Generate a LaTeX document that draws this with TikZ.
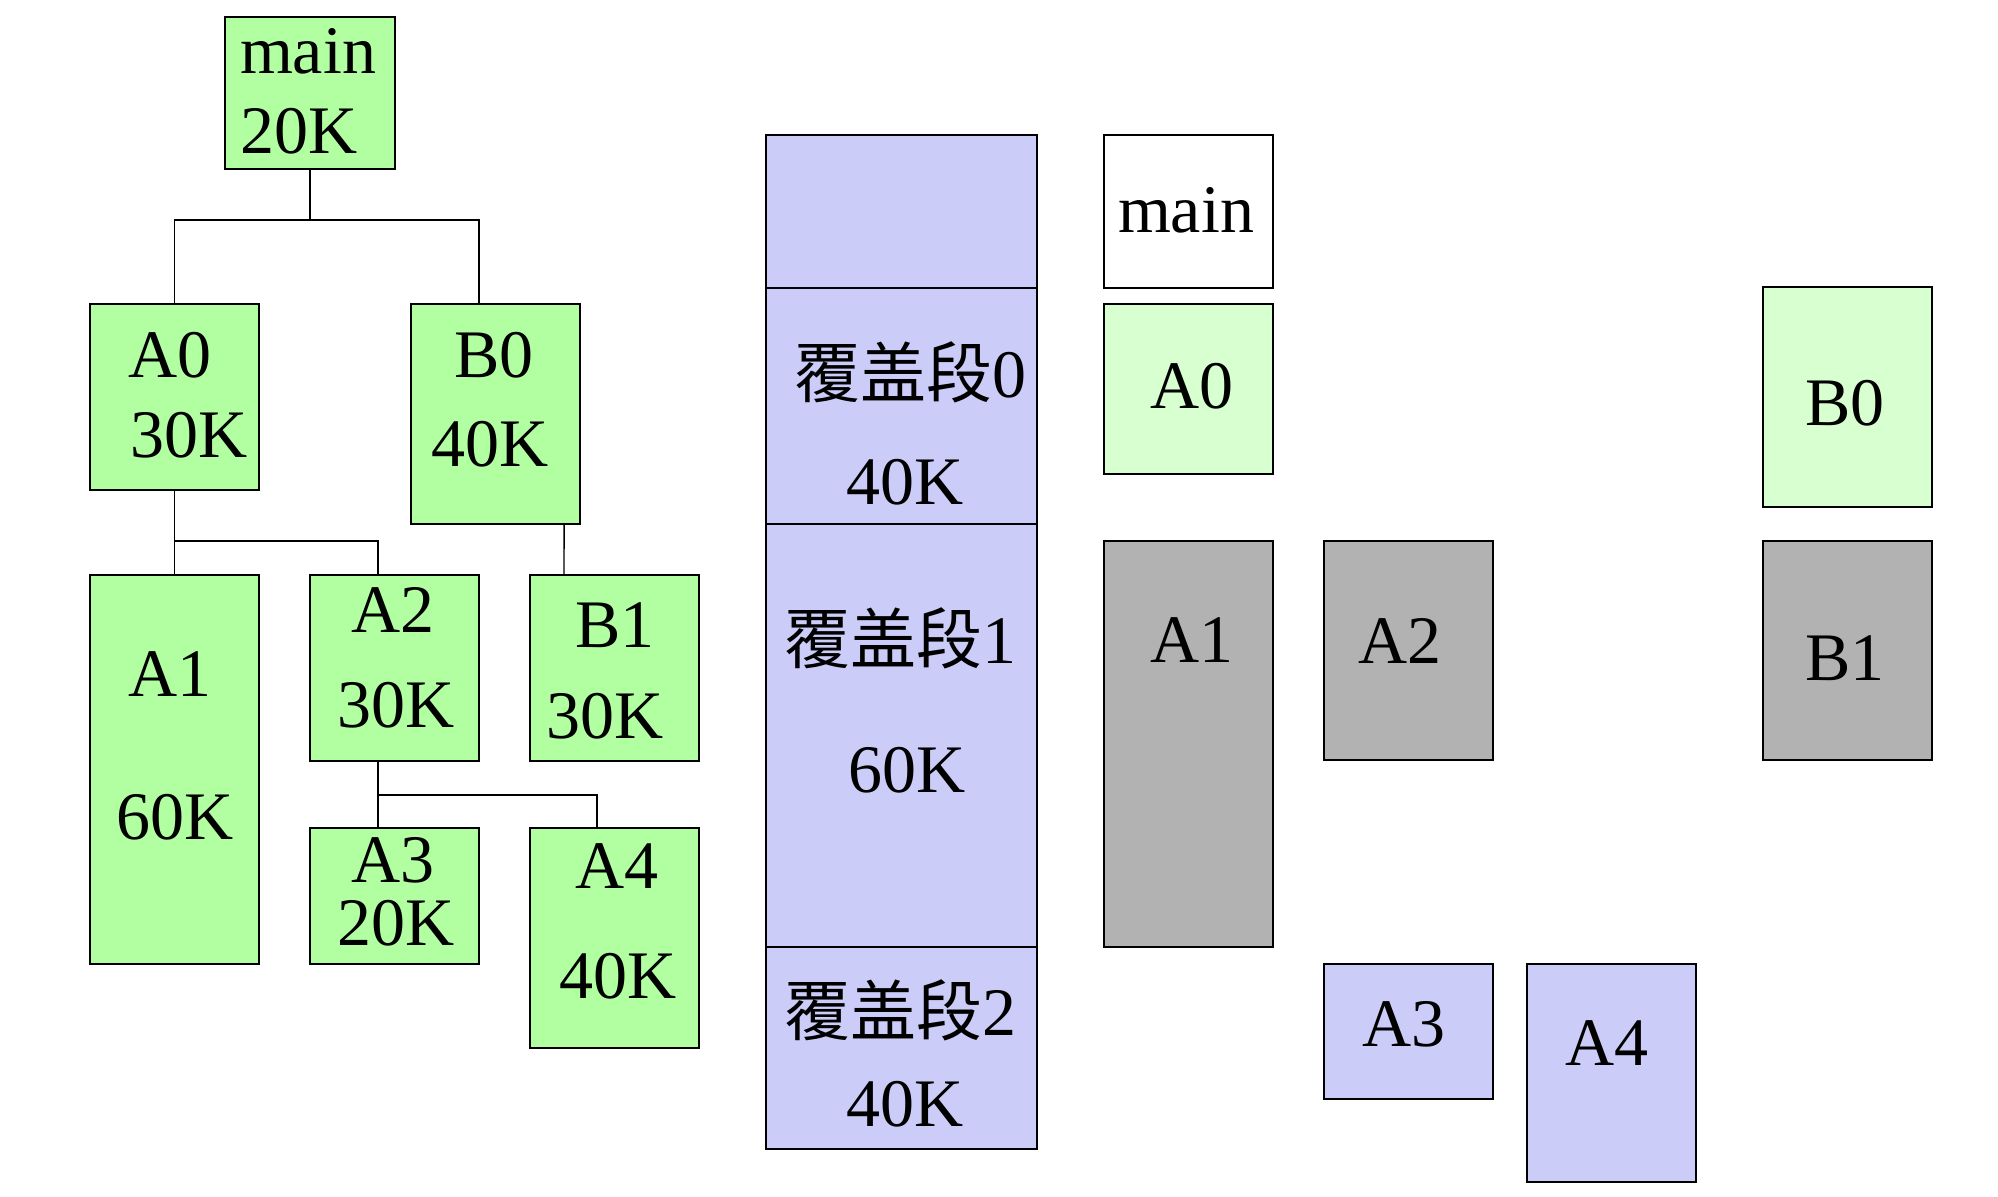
\documentclass[tikz,border=0pt]{standalone}
\usepackage{fontspec}
\setmainfont{Liberation Serif}
\newfontfamily\cjk{Noto Sans CJK SC}
\usetikzlibrary{calc}
\definecolor{tgreen}{RGB}{178,255,162}
\definecolor{lgreen}{RGB}{216,255,208}
\definecolor{lav}{RGB}{204,204,248}
\definecolor{gry}{RGB}{178,178,178}
\tikzset{
  box/.style={draw=black, line width=1.15pt, inner sep=0pt, outer sep=0pt, anchor=north west},
  conn/.style={draw=black, line width=0.7pt},
  txt/.style={anchor=base west, inner sep=0pt, outer sep=0pt, font=\fontsize{34pt}{40pt}\selectfont}
}
\begin{document}
\begin{tikzpicture}[x=0.5pt,y=-0.5pt]
\useasboundingbox (0,0) rectangle (1998,1196);
% ---------- left tree ----------
\node[box, fill=tgreen, minimum width=85pt, minimum height=76pt] (main) at (225,17) {};
\node[box, fill=tgreen, minimum width=84.5pt, minimum height=93pt] (A0) at (90,304) {};
\node[box, fill=tgreen, minimum width=84.5pt, minimum height=110pt] (B0) at (411,304) {};
\node[box, fill=tgreen, minimum width=84.5pt, minimum height=194.5pt] (A1) at (90,575) {};
\node[box, fill=tgreen, minimum width=84.5pt, minimum height=93pt] (A2) at (310,575) {};
\node[box, fill=tgreen, minimum width=84.5pt, minimum height=93pt] (B1) at (530,575) {};
\node[box, fill=tgreen, minimum width=84.5pt, minimum height=68pt] (A3) at (310,828) {};
\node[box, fill=tgreen, minimum width=84.5pt, minimum height=110pt] (A4) at (530,828) {};
\coordinate (y1) at (0,220);
\coordinate (y2) at (0,541);
\coordinate (y3) at (0,795);
\coordinate (b0n) at ($(B0.north west)!0.402!(B0.north east)$);
\coordinate (b0s) at ($(B0.south west)!0.906!(B0.south east)$);
\coordinate (b1n) at ($(B1.north west)!0.201!(B1.north east)$);
\coordinate (a2n) at ($(A2.north west)!0.402!(A2.north east)$);
\coordinate (a2s) at ($(A2.south west)!0.402!(A2.south east)$);
\coordinate (a3n) at ($(A3.north west)!0.402!(A3.north east)$);
\coordinate (a4n) at ($(A4.north west)!0.396!(A4.north east)$);
\draw[conn] (main.south) -- (main.south |- y1);
\draw[conn] (A0.north) -- (A0.north |- y1) -| (b0n);
\draw[conn] (A0.south) -- (A1.north);
\draw[conn] (A0.south |- y2) -| (a2n);
\draw[conn] (b0s) -- (b1n);
\draw[conn] (a2s) -- (a3n);
\draw[conn] (a3n |- y3) -| (a4n);
\node[txt] (tmain1) at (240,73) {main};
\node[txt] (tmain2) at (240,153) {20K};
\node[txt] (tA01) at (128,377) {A0};
\node[txt] (tA02) at (130,457) {30K};
\node[txt] (tB01) at (454,377) {B0};
\node[txt] (tB02) at (431,466) {40K};
\node[txt] (tA11) at (128,696) {A1};
\node[txt] (tA12) at (116,839) {60K};
\node[txt] (tA21) at (351,632) {A2};
\node[txt] (tA22) at (337,727) {30K};
\node[txt] (tB11) at (575,647) {B1};
\node[txt] (tB12) at (546,738) {30K};
\node[txt] (tA31) at (351,882) {A3};
\node[txt] (tA32) at (337,945) {20K};
\node[txt] (tA41) at (575,888) {A4};
\node[txt] (tA42) at (559,998) {40K};
% ---------- memory column ----------
\node[box, fill=lav, minimum width=135.5pt, minimum height=76.5pt] (seg) at (766,135) {};
\node[box, fill=lav, minimum width=135.5pt, minimum height=118pt] (s0) at (766,288) {};
\node[box, fill=lav, minimum width=135.5pt, minimum height=211.5pt] (s1) at (766,524) {};
\node[box, fill=lav, minimum width=135.5pt, minimum height=101pt] (s2) at (766,947) {};
\node[txt] (ts01) at (794,397) {{\cjk\fontsize{33pt}{40pt}\selectfont 覆盖段}0};
\node[txt] (ts02) at (846,504) {40K};
\node[txt] (ts11) at (784,663) {{\cjk\fontsize{33pt}{40pt}\selectfont 覆盖段}1};
\node[txt] (ts12) at (848,792) {60K};
\node[txt] (ts21) at (784,1035) {{\cjk\fontsize{33pt}{40pt}\selectfont 覆盖段}2};
\node[txt] (ts22) at (846,1126) {40K};
% ---------- right boxes ----------
\node[box, fill=white, minimum width=84.5pt, minimum height=76.5pt] (rmain) at (1104,135) {};
\node[box, fill=lgreen, minimum width=84.5pt, minimum height=85pt] (rA0) at (1104,304) {};
\node[box, fill=gry, minimum width=84.5pt, minimum height=203pt] (rA1) at (1104,541) {};
\node[box, fill=gry, minimum width=84.5pt, minimum height=109.5pt] (rA2) at (1324,541) {};
\node[box, fill=lgreen, minimum width=84.5pt, minimum height=110pt] (rB0) at (1763,287) {};
\node[box, fill=gry, minimum width=84.5pt, minimum height=109.5pt] (rB1) at (1763,541) {};
\node[box, fill=lav, minimum width=84.5pt, minimum height=67.5pt] (rA3) at (1324,964) {};
\node[box, fill=lav, minimum width=84.5pt, minimum height=109pt] (rA4) at (1527,964) {};
\node[txt] (trmain) at (1118,232) {main};
\node[txt] (trA0) at (1150,408) {A0};
\node[txt] (trA1) at (1150,662) {A1};
\node[txt] (trA2) at (1358,663) {A2};
\node[txt] (trB0) at (1805,425) {B0};
\node[txt] (trB1) at (1805,680) {B1};
\node[txt] (trA3) at (1362,1046) {A3};
\node[txt] (trA4) at (1565,1065) {A4};
\end{tikzpicture}
\end{document}
